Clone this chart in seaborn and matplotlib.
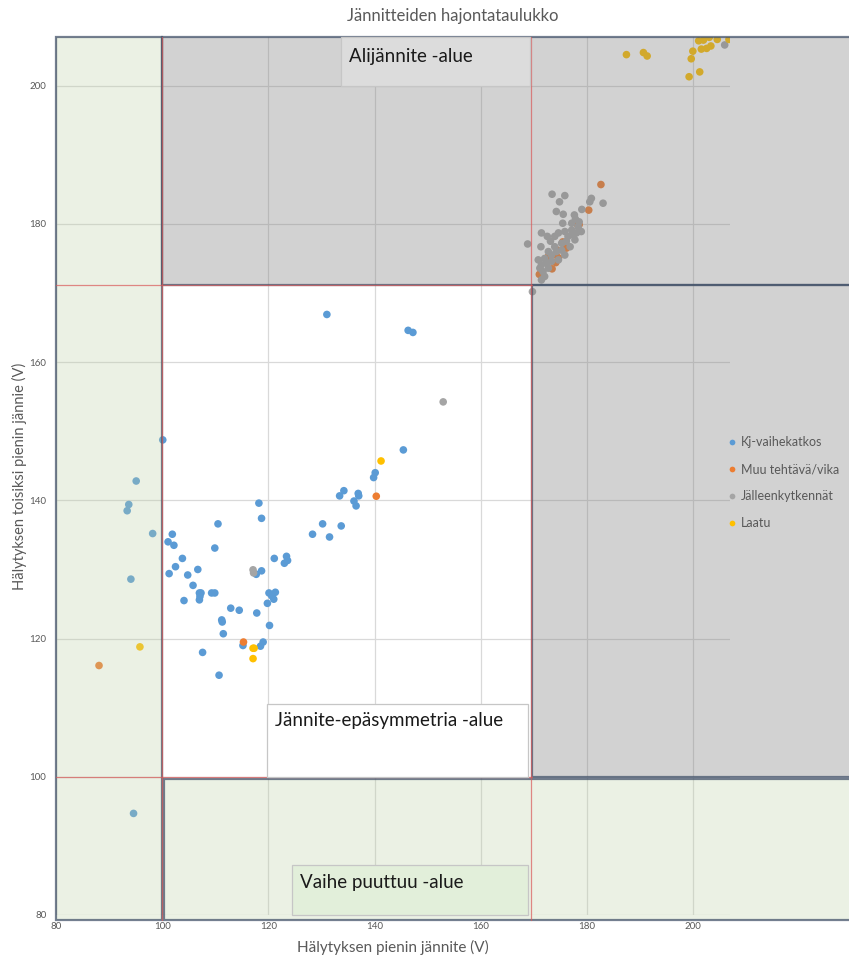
import matplotlib
matplotlib.use("Agg")
import matplotlib.pyplot as plt
from matplotlib.patches import Rectangle
import seaborn as sns
import pandas as pd

# --- Hälytysdata (V): pienin jännite ja toisiksi pienin jännite ---
kj_x = [100.1, 95.1, 93.7, 93.4, 98.2, 94.1, 94.6,
        131.0, 146.3, 147.2, 145.4, 140.1, 139.8, 134.2, 133.4, 136.9, 137.0, 136.1, 136.5,
        118.2, 118.7, 110.5, 101.9, 101.1, 102.2, 109.9, 130.2, 128.3, 133.7, 131.5,
        103.8, 102.5, 106.7, 101.3, 104.8, 117.7, 118.7, 121.1, 123.4, 123.0, 123.6,
        105.8, 107.0, 107.3, 107.0, 107.1, 109.3, 109.9, 104.1, 120.1, 121.3, 120.6,
        121.0, 119.8, 112.9, 114.5, 117.8, 111.2, 111.3, 120.2, 111.5, 115.2, 119.0,
        118.5, 107.6, 110.7]
kj_y = [148.75, 142.8, 139.4, 138.5, 135.2, 128.6, 94.7,
        166.9, 164.6, 164.3, 147.3, 144.0, 143.3, 141.4, 140.65, 141.0, 140.65, 139.9, 139.2,
        139.6, 137.4, 136.6, 135.1, 134.0, 133.5, 133.1, 136.6, 135.1, 136.3, 134.7,
        131.6, 130.4, 130.0, 129.4, 129.2, 129.3, 129.8, 131.6, 131.9, 130.9, 131.3,
        127.7, 126.6, 126.6, 125.6, 126.1, 126.6, 126.6, 125.5, 126.6, 126.7, 126.2,
        125.7, 125.1, 124.4, 124.1, 123.7, 122.7, 122.4, 121.9, 120.7, 119.0, 119.5,
        118.9, 118.0, 114.7]

muu_x = [88.1, 115.3, 140.3, 182.6, 180.3, 178.2, 178.5, 175.4, 176.1, 174.4, 174.1,
         172.7, 174.6, 174.1, 173.4, 171.0]
muu_y = [116.1, 119.5, 140.6, 185.7, 182.0, 179.9, 179.9, 177.4, 176.5, 176.2, 175.5,
         175.3, 175.1, 174.4, 173.5, 172.7]

jk_x = [117.1, 117.2, 152.9, 205.9, 183.0,
        173.4, 175.8, 174.8, 174.2, 175.5, 177.6, 177.8, 180.8, 180.5, 179.0, 175.4, 178.5,
        171.4, 171.3, 172.5, 173.1, 174.6, 175.8, 177.1, 178.3, 176.4, 177.4, 178.0, 175.2,
        173.9, 172.7, 173.3, 172.0, 170.8, 171.4, 172.4, 173.3, 174.6, 175.8, 176.8, 177.7,
        175.2, 171.1, 171.7, 172.0, 171.4, 168.8, 169.7, 173.9, 176.1, 174.2, 172.7, 177.1,
        178.9]
jk_y = [129.95, 129.5, 154.25, 205.9, 183.0,
        184.3, 184.1, 183.2, 181.8, 181.4, 181.3, 180.7, 183.7, 183.2, 182.1, 180.1, 180.3,
        178.7, 176.7, 178.2, 177.5, 178.7, 178.9, 179.1, 179.6, 178.2, 178.4, 178.7, 177.2,
        176.7, 176.0, 175.5, 175.0, 174.8, 174.1, 174.3, 174.6, 174.8, 175.5, 176.7, 177.7,
        176.2, 173.6, 173.1, 172.4, 171.9, 177.1, 170.2, 178.2, 177.5, 176.0, 173.6, 180.1,
        178.9]

laatu_x = [95.8, 117.1, 117.3, 117.1, 141.2, 187.4, 190.6, 191.3, 199.2, 201.2, 199.6,
           199.9, 201.5, 202.5, 203.3, 201.0, 201.9, 203.0, 204.5, 206.7]
laatu_y = [118.8, 118.6, 118.6, 117.1, 145.7, 204.5, 204.8, 204.3, 201.3, 202.0, 203.9,
           205.0, 205.3, 205.4, 205.75, 206.5, 206.6, 207.0, 206.7, 206.7]

sarjat = ["Kj-vaihekatkos", "Muu tehtävä/vika", "Jälleenkytkennät", "Laatu"]
varit = ["#5b9bd5", "#ed7d31", "#a5a5a5", "#ffc000"]

# Alueiden rajat (V)
VAIHE_RAJA = 100.0
EPASYM_RAJA = 169.6
ALI_RAJA = 171.2
X_MIN, X_MAX = 80.0, 206.9
Y_MIN, Y_MAX = 80.0, 207.05
X_REUNA = 235.0
Y_ALA = 79.3

df = pd.concat([
    pd.DataFrame({"x": kj_x, "y": kj_y, "tyyppi": sarjat[0]}),
    pd.DataFrame({"x": muu_x, "y": muu_y, "tyyppi": sarjat[1]}),
    pd.DataFrame({"x": jk_x, "y": jk_y, "tyyppi": sarjat[2]}),
    pd.DataFrame({"x": laatu_x, "y": laatu_y, "tyyppi": sarjat[3]}),
], ignore_index=True)

sns.set_style("white")
plt.rcParams["font.family"] = ["Liberation Sans Narrow", "Lato", "DejaVu Sans"]

fig = plt.figure(figsize=(8.49, 9.58), dpi=100)
ax = fig.add_axes([56 / 849, 1 - 915 / 958, 674 / 849, 878 / 958])

sns.scatterplot(data=df, x="x", y="y", hue="tyyppi", hue_order=sarjat,
                palette=dict(zip(sarjat, varit)), s=30, linewidth=0, ax=ax, zorder=3)

ax.set_xlim(X_MIN, X_MAX)
ax.set_ylim(Y_MIN, Y_MAX)
ax.set_xticks(range(80, 201, 20))
ax.set_yticks(range(80, 201, 20))
ax.grid(True, color="#d9d9d9", lw=0.9, zorder=0)
ax.set_axisbelow(True)
for s in ax.spines.values():
    s.set_visible(False)
ax.tick_params(length=0, labelsize=7, colors="#595959")
ax.tick_params(axis="y", pad=7)
ax.tick_params(axis="x", pad=5)
ax.set_xlabel("Hälytyksen pienin jännite (V)", fontsize=11, color="#595959")
ax.set_ylabel("Hälytyksen toisiksi pienin jännie (V)", fontsize=10.5, color="#595959",
              family=["Lato", "DejaVu Sans"])
ax.xaxis.set_label_coords(0.5, -(947 - 915) / 878)
ax.yaxis.set_label_coords(-(56 - 19) / 674, 0.5)
ax.xaxis.label.set_va("center")
ax.yaxis.label.set_va("center")
fig.text(453 / 849, 1 - 16 / 958, "Jännitteiden hajontataulukko", ha="center", va="center",
         fontsize=12, color="#595959")

# Läpikuultavat aluekuviot pisteiden päällä
vihrea = (0.74, 0.82, 0.65, 0.30)
harmaa = (0.50, 0.50, 0.50, 0.35)
reuna = (0.27, 0.33, 0.42, 0.75)
alueet = [
    (X_MIN, Y_ALA, VAIHE_RAJA - X_MIN, Y_MAX - Y_ALA, vihrea),
    (VAIHE_RAJA, ALI_RAJA, X_REUNA - VAIHE_RAJA, Y_MAX - ALI_RAJA, harmaa),
    (EPASYM_RAJA, VAIHE_RAJA, X_REUNA - EPASYM_RAJA, ALI_RAJA - VAIHE_RAJA, harmaa),
    (VAIHE_RAJA + 0.3, Y_ALA, X_REUNA - VAIHE_RAJA, VAIHE_RAJA - 0.3 - Y_ALA, vihrea),
]
for x0, y0, w, h, fc in alueet:
    ax.add_patch(Rectangle((x0, y0), w, h, facecolor=fc, edgecolor=reuna, lw=1.6,
                           clip_on=False, zorder=4))

# Raja-viivat
punainen = (0.85, 0.35, 0.35, 0.7)
ax.plot([X_MIN, EPASYM_RAJA], [VAIHE_RAJA, VAIHE_RAJA], color=punainen, lw=0.9, zorder=5, clip_on=False)
ax.plot([X_MIN, EPASYM_RAJA], [ALI_RAJA, ALI_RAJA], color=punainen, lw=0.9, zorder=5, clip_on=False)
ax.plot([VAIHE_RAJA, VAIHE_RAJA], [Y_ALA, Y_MAX], color=punainen, lw=0.9, zorder=5, clip_on=False)
ax.plot([EPASYM_RAJA - 0.2, EPASYM_RAJA - 0.2], [Y_ALA, Y_MAX], color=punainen, lw=0.9, zorder=5, clip_on=False)

# Aluenimet
laatikot = [
    ("Alijännite -alue", 133.65, 200.0, 169.2, Y_MAX, "#dcdcdc", 204.3),
    ("Jännite-epäsymmetria -alue", 119.7, 100.0, 168.85, 110.56, "#ffffff", 108.1),
    ("Vaihe puuttuu -alue", 124.4, 80.05, 168.9, 87.27, "#e2efda", 84.67),
]
for teksti, x0, y0, x1, y1, fc, ty in laatikot:
    ax.add_patch(Rectangle((x0, y0), x1 - x0, y1 - y0, facecolor=fc, edgecolor="#c6c6c6",
                           lw=0.9, clip_on=False, zorder=6))
    ax.text(x0 + 1.5, ty, teksti, ha="left", va="center", fontsize=13.5, color="#1a1a1a",
            family=["Lato", "DejaVu Sans"], zorder=7)

sns.move_legend(ax, "upper left", bbox_to_anchor=(727 / 849, 1 - 436 / 958),
                bbox_transform=fig.transFigure, frameon=False, title=None,
                fontsize=9, labelcolor="#595959", borderpad=0, borderaxespad=0,
                handlelength=0.8, handletextpad=0.3, labelspacing=1.2, markerscale=0.75,
                prop={"family": ["Lato", "DejaVu Sans"], "size": 9})

fig.savefig("out.png", dpi=100)
